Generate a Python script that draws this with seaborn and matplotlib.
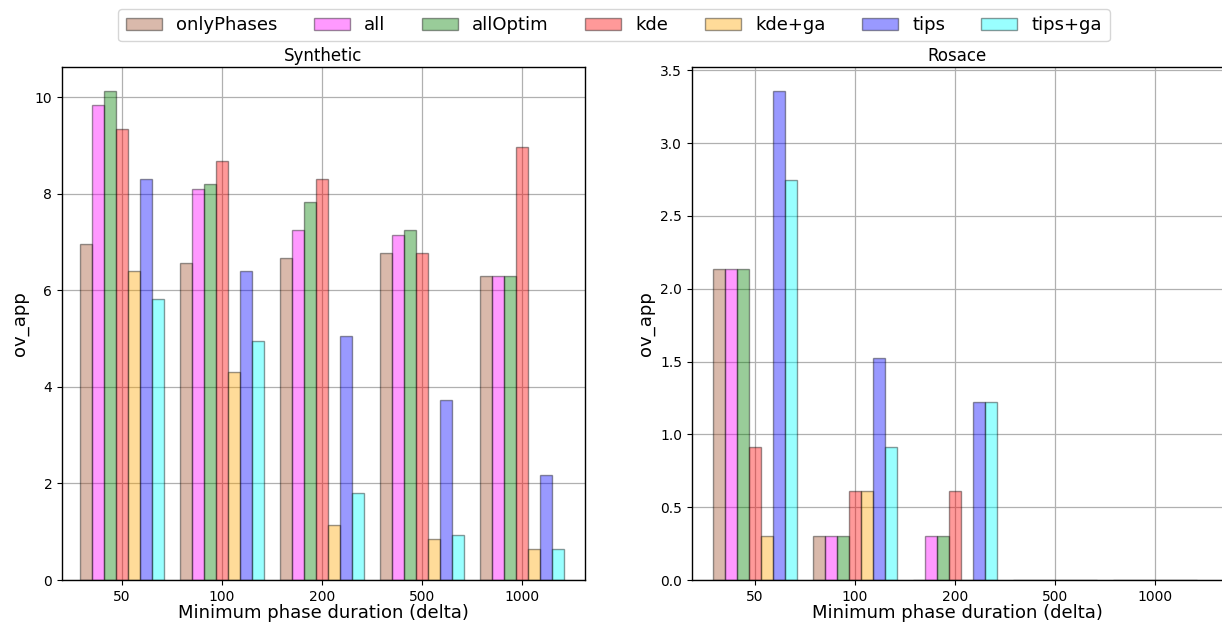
import matplotlib
matplotlib.use("Agg")
import matplotlib.pyplot as plt
import numpy as np
import pandas as pd
import seaborn as sns

deltas = ["50", "100", "200", "500", "1000"]
methods = ["onlyPhases", "all", "allOptim", "kde", "kde+ga", "tips", "tips+ga"]
colors = ["sienna", "magenta", "green", "red", "orange", "blue", "cyan"]

# Synthetic dataset
syn_onlyPhases = [6.96, 6.56, 6.67, 6.77, 6.30]
syn_all = [9.83, 8.10, 7.25, 7.14, 6.30]
syn_allOptim = [10.12, 8.20, 7.83, 7.25, 6.30]
syn_kde = [9.34, 8.67, 8.30, 6.77, 8.96]
syn_kde_ga = [6.40, 4.30, 1.13, 0.85, 0.65]
syn_tips = [8.30, 6.40, 5.05, 3.73, 2.18]
syn_tips_ga = [5.82, 4.95, 1.80, 0.94, 0.65]

# Rosace dataset
ros_onlyPhases = [2.135, 0.305, 0.0, 0.0, 0.0]
ros_all = [2.135, 0.305, 0.305, 0.0, 0.0]
ros_allOptim = [2.135, 0.305, 0.305, 0.0, 0.0]
ros_kde = [0.915, 0.61, 0.61, 0.0, 0.0]
ros_kde_ga = [0.305, 0.61, 0.0, 0.0, 0.0]
ros_tips = [3.355, 1.525, 1.22, 0.0, 0.0]
ros_tips_ga = [2.745, 0.915, 1.22, 0.0, 0.0]

syn_series = [syn_onlyPhases, syn_all, syn_allOptim, syn_kde, syn_kde_ga, syn_tips, syn_tips_ga]
ros_series = [ros_onlyPhases, ros_all, ros_allOptim, ros_kde, ros_kde_ga, ros_tips, ros_tips_ga]


def to_long(series):
    rows = []
    for m, vals in zip(methods, series):
        for d, v in zip(deltas, vals):
            rows.append({"delta": d, "method": m, "value": v})
    return pd.DataFrame(rows)


fig = plt.figure(figsize=(12.22, 6.24), dpi=100)
W, H = 1222.0, 624.0
ax1 = fig.add_axes([62 / W, 1 - 580 / H, (585 - 62) / W, (580 - 67) / H])
ax2 = fig.add_axes([692 / W, 1 - 580 / H, 1 - 692 / W, (580 - 67) / H])

palette = dict(zip(methods, colors))

for ax, series, title, xlim in [
    (ax1, syn_series, "Synthetic", (-0.6, 4.63)),
    (ax2, ros_series, "Rosace", (-0.63, 4.67)),
]:
    df = to_long(series)
    sns.barplot(data=df, x="delta", y="value", hue="method", order=deltas,
                hue_order=methods, palette=palette, width=0.84, alpha=0.4,
                edgecolor="black", linewidth=1.0, saturation=1, errorbar=None,
                ax=ax)
    ax.set_xlim(*xlim)
    ax.grid(True, color="#b0b0b0", linewidth=0.9)
    ax.set_axisbelow(True)
    ax.set_title(title, fontsize=12, pad=4)
    ax.set_xlabel("Minimum phase duration (delta)", fontsize=13, labelpad=0)
    ax.set_ylabel("ov_app", fontsize=13)
    ax.tick_params(labelsize=10)
    for s in ax.spines.values():
        s.set_color("black")
        s.set_linewidth(1.0)

handles, labels = ax1.get_legend_handles_labels()
ax1.get_legend().remove()
ax2.get_legend().remove()
ax2.spines["right"].set_visible(False)

fig.legend(handles, labels, loc="upper center", bbox_to_anchor=(0.5025, 1.0),
           ncol=7, fontsize=13, frameon=True)

fig.savefig("out.png", dpi=100)
